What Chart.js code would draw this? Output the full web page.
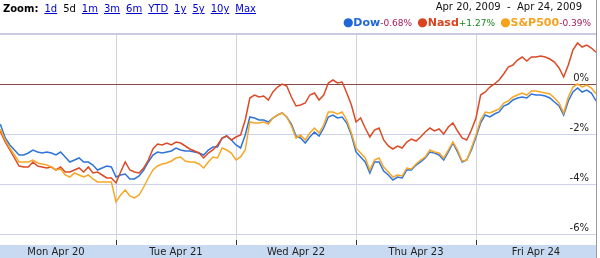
<!DOCTYPE html>
<html>
<head>
<meta charset="utf-8">
<script src="https://cdn.jsdelivr.net/npm/chart.js@4.4.0/dist/chart.umd.min.js"></script>
<style>
    body { margin: 0; background: #fff; font-family: "DejaVu Sans", Verdana, sans-serif; }
    #wrap { position: relative; width: 600px; height: 258px; overflow: hidden; }
    #chart { position: absolute; left: 0; top: 0; }
    .hdr { position: absolute; white-space: nowrap; font-size: 10px; color: #000; }
    .hdr a { color: #0000cc; text-decoration: underline; margin-left: 6px; }
    .hdr .cur { margin-left: 6px; }
    .leg b { font-size: 11px; font-weight: bold; }
    .leg span { font-size: 9px; margin-right: 2px; }
</style>
</head>
<body>
<div id="wrap">
    <canvas id="chart" width="600" height="258"></canvas>
    <div class="hdr" style="left:3px; top:3px;">
        <b>Zoom:</b><a>1d</a><span class="cur">5d</span><a>1m</a><a>3m</a><a>6m</a><a>YTD</a><a>1y</a><a>5y</a><a>10y</a><a>Max</a>
    </div>
    <div class="hdr" style="right:18px; top:1px; font-size:10px; color:#111;">Apr 20, 2009 &nbsp;-&nbsp; Apr 24, 2009</div>
    <div class="hdr leg" style="right:9px; top:15px;">
        <b style="color:#1f66d6"><span style="font-size:12px;margin:0">●</span>Dow</b><span style="color:#a3195b">-0.68%</span>
        <b style="color:#d9441f"><span style="font-size:12px;margin:0">●</span>Nasd</b><span style="color:#17871c">+1.27%</span>
        <b style="color:#f5a21f"><span style="font-size:12px;margin:0">●</span>S&amp;P500</b><span style="color:#a3195b; margin-right:0">-0.39%</span>
    </div>
</div>
<script>
    // trading days shown on the axis
    const days = ["Mon Apr 20", "Tue Apr 21", "Wed Apr 22", "Thu Apr 23", "Fri Apr 24"];
    // one sample every 15 minutes from 9:30, 26 per day, plus the Friday close
    const slotsPerDay = 26;
    const slotMinutes = 15;
    const sessionMinutes = 390;

    // % change since last close
    const dow = [
        -1.52, -1.64, -2.16, -2.44, -2.64, -2.84, -2.84, -2.76, -2.64, -2.72, -2.76, -2.72, -2.76,
        -2.84, -2.72, -2.92, -3.12, -3.04, -2.96, -3.12, -3.12, -3.24, -3.44, -3.36, -3.28, -3.32,
        -3.72, -3.64, -3.60, -3.80, -3.80, -3.68, -3.44, -3.12, -2.84, -2.72, -2.76, -2.72, -2.68,
        -2.56, -2.64, -2.68, -2.68, -2.72, -2.76, -2.84, -2.64, -2.52, -2.52, -2.16, -2.08, -2.24,
        -2.44, -2.56, -2.04, -1.32, -1.36, -1.44, -1.44, -1.52, -1.36, -1.24, -1.16, -1.32, -1.60,
        -2.08, -2.16, -2.36, -2.12, -1.92, -2.08, -1.76, -1.32, -1.24, -1.36, -1.32, -1.56, -2.04,
        -2.72, -2.92, -3.12, -3.56, -3.12, -3.12, -3.48, -3.64, -3.84, -3.72, -3.76, -3.44, -3.44,
        -3.24, -3.12, -2.96, -2.72, -2.76, -2.84, -3.04, -2.72, -2.36, -2.72, -3.12, -3.04, -2.64,
        -2.12, -1.56, -1.24, -1.32, -1.20, -1.12, -0.88, -0.80, -0.64, -0.56, -0.52, -0.56, -0.40,
        -0.44, -0.44, -0.48, -0.56, -0.72, -0.88, -1.24, -0.68, -0.32, -0.16, -0.32, -0.24, -0.36,
        -0.68
    ];
    const nasdaq = [
        -1.76, -1.92, -2.32, -2.64, -2.96, -3.28, -3.32, -3.32, -3.12, -3.28, -3.32, -3.36, -3.32,
        -3.44, -3.32, -3.52, -3.52, -3.44, -3.36, -3.52, -3.32, -3.56, -3.52, -3.64, -3.76, -3.76,
        -3.96, -3.52, -3.12, -3.44, -3.52, -3.56, -3.36, -3.04, -2.60, -2.40, -2.44, -2.36, -2.44,
        -2.32, -2.36, -2.48, -2.60, -2.68, -2.76, -2.96, -2.76, -2.64, -2.44, -2.16, -2.08, -2.24,
        -2.12, -2.04, -1.44, -0.56, -0.44, -0.52, -0.48, -0.64, -0.32, -0.12, 0.00, -0.08, -0.52,
        -0.88, -0.84, -0.76, -0.44, -0.36, -0.64, -0.44, 0.04, 0.16, 0.04, 0.08, -0.36, -0.84,
        -1.52, -1.36, -1.76, -2.12, -1.84, -1.76, -2.24, -2.48, -2.60, -2.48, -2.56, -2.32, -2.20,
        -2.28, -2.12, -1.92, -1.76, -1.88, -1.80, -2.00, -1.72, -1.56, -1.88, -2.16, -2.24, -1.84,
        -1.36, -0.44, -0.32, -0.12, 0.00, 0.16, 0.40, 0.68, 0.76, 0.96, 1.08, 0.92, 1.08,
        1.08, 1.12, 1.08, 1.00, 0.88, 0.64, 0.28, 0.76, 1.36, 1.64, 1.48, 1.56, 1.44,
        1.27
    ];
    const sp500 = [
        -1.68, -1.84, -2.24, -2.56, -2.84, -3.12, -3.12, -3.12, -3.04, -3.16, -3.20, -3.24, -3.32,
        -3.44, -3.40, -3.64, -3.72, -3.56, -3.64, -3.72, -3.64, -3.80, -3.92, -3.92, -3.92, -3.92,
        -4.72, -4.44, -4.24, -4.48, -4.56, -4.44, -4.12, -3.76, -3.44, -3.28, -3.20, -3.16, -3.08,
        -2.96, -2.92, -3.08, -3.12, -3.12, -3.20, -3.36, -3.12, -2.92, -2.96, -2.56, -2.64, -2.76,
        -3.04, -2.92, -2.64, -1.52, -1.56, -1.56, -1.52, -1.60, -1.36, -1.24, -1.16, -1.32, -1.68,
        -2.16, -2.04, -2.24, -1.96, -1.76, -1.96, -1.64, -1.12, -1.12, -1.20, -1.12, -1.44, -1.96,
        -2.56, -2.76, -2.96, -3.44, -3.04, -2.96, -3.32, -3.52, -3.72, -3.64, -3.68, -3.36, -3.40,
        -3.20, -3.04, -2.92, -2.64, -2.72, -2.76, -2.96, -2.64, -2.32, -2.64, -3.08, -3.04, -2.56,
        -2.04, -1.44, -1.12, -1.16, -1.08, -1.00, -0.76, -0.68, -0.52, -0.44, -0.36, -0.44, -0.28,
        -0.28, -0.32, -0.36, -0.40, -0.56, -0.76, -1.16, -0.52, -0.12, 0.00, -0.12, -0.04, -0.16,
        -0.39
    ];
    const yTicks = [-6, -4, -2, 0, 2];

    // position in days: Monday open = 0, Friday close = 5
    function toPoints(values) {
        return values.map((v, i) => {
            const day = Math.floor(i / slotsPerDay);
            const slot = i % slotsPerDay;
            return { x: day + slot * slotMinutes / sessionMinutes, y: v };
        });
    }

    const bandPlugin = {
        id: 'band',
        beforeDraw(chart) {
            const c = chart.ctx, a = chart.chartArea;
            c.save();
            c.fillStyle = '#c7daf2';
            c.fillRect(0, a.bottom, a.right, chart.height - a.bottom);
            c.restore();
        },
        afterDraw(chart) {
            const c = chart.ctx, a = chart.chartArea, xs = chart.scales.x;
            c.save();
            c.strokeStyle = '#333';
            c.lineWidth = 1;
            for (let d = 1; d < days.length; d++) {
                const px = Math.round(xs.getPixelForValue(d)) + 0.5;
                c.beginPath();
                c.moveTo(px, a.bottom - 5);
                c.lineTo(px, a.bottom);
                c.stroke();
            }
            c.strokeStyle = '#9a9a9a';
            c.beginPath();
            c.moveTo(a.right + 0.5, 0);
            c.lineTo(a.right + 0.5, chart.height);
            c.stroke();
            c.restore();
        }
    };

    const ctx = document.getElementById('chart').getContext('2d');
    new Chart(ctx, {
        type: 'line',
        data: {
            datasets: [
                { label: 'Dow', data: toPoints(dow), borderColor: '#2f74d8', order: 3 },
                { label: 'Nasd', data: toPoints(nasdaq), borderColor: '#dc4a26', order: 2 },
                { label: 'S&P500', data: toPoints(sp500), borderColor: '#f7a728', order: 1 }
            ]
        },
        options: {
            responsive: false,
            animation: false,
            layout: { padding: { top: 33, left: 0, right: 4, bottom: 0 } },
            elements: {
                line: { borderWidth: 1.5, tension: 0 },
                point: { radius: 0 }
            },
            plugins: {
                legend: { display: false },
                tooltip: { enabled: false }
            },
            scales: {
                x: {
                    type: 'linear',
                    min: 5 - 596 / 120,
                    max: 5,
                    border: { display: false },
                    afterBuildTicks: scale => {
                        const t = [];
                        for (let v = 0.5; v < days.length; v += 0.5) t.push({ value: v });
                        scale.ticks = t;
                    },
                    afterFit: scale => { scale.height = 13; },
                    grid: {
                        drawTicks: false,
                        color: c => Number.isInteger(c.tick.value) ? '#d3d3dc' : 'rgba(0,0,0,0)'
                    },
                    ticks: {
                        autoSkip: false,
                        maxRotation: 0,
                        padding: 1,
                        color: '#222',
                        font: { family: 'DejaVu Sans', size: 10 },
                        callback: v => Number.isInteger(v) ? '' : days[Math.floor(v)]
                    }
                },
                y: {
                    position: 'right',
                    min: -6.44,
                    max: 2.04,
                    border: { display: false },
                    afterBuildTicks: scale => { scale.ticks = yTicks.map(v => ({ value: v })); },
                    afterFit: scale => { scale.width = 0; },
                    grid: {
                        drawTicks: false,
                        color: c => c.tick.value === 0 ? '#8a4848' : (c.tick.value === 2 ? '#c9cce0' : '#cfd0ec'),
                        lineWidth: c => c.tick.value === 2 ? 2 : 1
                    },
                    ticks: {
                        mirror: true,
                        padding: -7,
                        labelOffset: -6,
                        color: '#222',
                        font: { family: 'DejaVu Sans', size: 10 },
                        callback: v => v === 2 ? '' : v + '%'
                    }
                }
            }
        },
        plugins: [bandPlugin]
    });
</script>
</body>
</html>
